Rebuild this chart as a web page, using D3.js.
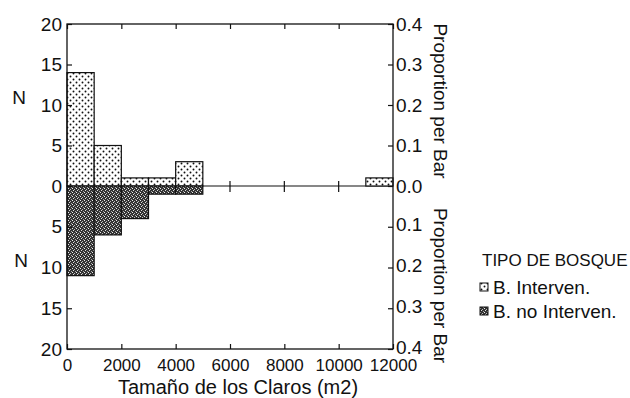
<!DOCTYPE html>
<html>
<head>
<meta charset="utf-8">
<script src="https://cdn.jsdelivr.net/npm/d3@7"></script>
<style>
  body { margin: 0; background: #fff; }
  svg text { font-family: "Liberation Sans", Arial, sans-serif; fill: #111; }
</style>
</head>
<body>
<div id="chart"></div>
<script>
// bins of 1000 m2
const binStarts = [0, 1000, 2000, 3000, 4000, 5000, 6000, 7000, 8000, 9000, 10000, 11000];
const binWidth = 1000;
const interven = [14, 5, 1, 1, 3, 0, 0, 0, 0, 0, 0, 1];      // B. Interven. (upper)
const noInterven = [11, 6, 4, 1, 1, 0, 0, 0, 0, 0, 0, 0];    // B. no Interven. (lower)
const countTicks = [0, 5, 10, 15, 20];
const propTicks = [0, 0.1, 0.2, 0.3, 0.4];
const xTicks = [0, 2000, 4000, 6000, 8000, 10000, 12000];
const seriesNames = ['B. Interven.', 'B. no Interven.'];

const W = 630, H = 398;
const plot = { left: 67, right: 393, top: 24, bottom: 349, zero: 186 };

const svg = d3.select('#chart').append('svg')
  .attr('width', W).attr('height', H);

// fill patterns
const defs = svg.append('defs');
const dots = defs.append('pattern')
  .attr('id', 'dots').attr('patternUnits', 'userSpaceOnUse')
  .attr('width', 6).attr('height', 6);
dots.append('rect').attr('width', 6).attr('height', 6).attr('fill', '#fff');
dots.append('circle').attr('cx', 1.5).attr('cy', 1.5).attr('r', 0.95).attr('fill', '#111');
dots.append('circle').attr('cx', 4.5).attr('cy', 4.5).attr('r', 0.95).attr('fill', '#111');

// speckled dark grey
const dark = defs.append('pattern')
  .attr('id', 'dark').attr('patternUnits', 'userSpaceOnUse')
  .attr('width', 4).attr('height', 4);
dark.append('rect').attr('width', 4).attr('height', 4).attr('fill', '#333');
[[0, 0, '#eee'], [2, 1, '#bbb'], [1, 2, '#ddd'], [3, 3, '#aaa']].forEach(([px, py, c]) => {
  dark.append('rect').attr('x', px).attr('y', py).attr('width', 1).attr('height', 1).attr('fill', c);
});

//scales
const x = d3.scaleLinear().domain([0, 12000]).range([plot.left, plot.right]);
const yUp = d3.scaleLinear().domain([0, 20]).range([plot.zero, plot.top]);
const yDown = d3.scaleLinear().domain([0, 20]).range([plot.zero, plot.bottom]);
const pUp = d3.scaleLinear().domain([0, 0.4]).range([plot.zero, plot.top]);
const pDown = d3.scaleLinear().domain([0, 0.4]).range([plot.zero, plot.bottom]);

// zero line with crossing ticks
svg.append('line')
  .attr('x1', x(0)).attr('x2', x(12000))
  .attr('y1', plot.zero).attr('y2', plot.zero)
  .attr('stroke', '#111').attr('stroke-width', 1.2);
svg.selectAll('.zeroTick')
  .data(xTicks.slice(1, -1))
  .enter().append('line')
  .attr('x1', d => x(d)).attr('x2', d => x(d))
  .attr('y1', plot.zero - 5).attr('y2', plot.zero + 6)
  .attr('stroke', '#111').attr('stroke-width', 1.2);

// upper bars
svg.selectAll('.barUp')
  .data(binStarts.map((b, i) => ({ b, v: interven[i] })).filter(d => d.v > 0))
  .enter().append('rect')
  .attr('x', d => x(d.b))
  .attr('y', d => yUp(d.v))
  .attr('width', d => x(d.b + binWidth) - x(d.b))
  .attr('height', d => yUp(0) - yUp(d.v))
  .attr('fill', 'url(#dots)')
  .attr('stroke', '#111').attr('stroke-width', 1.2);

// lower bars
svg.selectAll('.barDown')
  .data(binStarts.map((b, i) => ({ b, v: noInterven[i] })).filter(d => d.v > 0))
  .enter().append('rect')
  .attr('x', d => x(d.b))
  .attr('y', plot.zero)
  .attr('width', d => x(d.b + binWidth) - x(d.b))
  .attr('height', d => yDown(d.v) - yDown(0))
  .attr('fill', 'url(#dark)')
  .attr('stroke', '#111').attr('stroke-width', 1.2);

// frame
svg.append('rect')
  .attr('x', plot.left).attr('y', plot.top)
  .attr('width', plot.right - plot.left).attr('height', plot.bottom - plot.top)
  .attr('fill', 'none').attr('stroke', '#111').attr('stroke-width', 1.3);

function styleAxis(size) {
  return g => {
    g.select('.domain').remove();
    g.selectAll('.tick line').attr('stroke', '#111').attr('stroke-width', 1.2);
    g.selectAll('.tick text').style('font-size', size + 'px').attr('fill', '#111');
  };
}

//add left axes (ticks inward)
svg.append('g').attr('transform', `translate(${plot.left},0)`)
  .call(d3.axisLeft(yUp).tickValues(countTicks).tickSize(-5).tickPadding(5))
  .call(styleAxis(19));
svg.append('g').attr('transform', `translate(${plot.left},0)`)
  .call(d3.axisLeft(yDown).tickValues(countTicks.slice(1)).tickSize(-5).tickPadding(5))
  .call(styleAxis(19));

//add right axes
svg.append('g').attr('transform', `translate(${plot.right},0)`)
  .call(d3.axisRight(pUp).tickValues(propTicks).tickSize(-5).tickPadding(3).tickFormat(d3.format('.1f')))
  .call(styleAxis(19));
svg.append('g').attr('transform', `translate(${plot.right},-2)`)
  .call(d3.axisRight(pDown).tickValues(propTicks.slice(1)).tickSize(-5).tickPadding(3).tickFormat(d3.format('.1f')))
  .call(styleAxis(19))
  .selectAll('.tick line').attr('transform', 'translate(0,2)');

//add bottom / top axes
svg.append('g').attr('transform', `translate(0,${plot.bottom})`)
  .call(d3.axisBottom(x).tickValues(xTicks).tickSize(-5).tickPadding(10).tickFormat(d3.format('d')))
  .call(styleAxis(17));
svg.append('g').attr('transform', `translate(0,${plot.top})`)
  .call(d3.axisTop(x).tickValues(xTicks).tickSize(-5).tickFormat(''))
  .call(styleAxis(17));

// axis titles
svg.append('text')
  .attr('x', 238).attr('y', 394)
  .attr('text-anchor', 'middle')
  .style('font-size', '20px')
  .text('Tamaño de los Claros (m2)');

svg.append('text').attr('x', 19).attr('y', 104)
  .attr('text-anchor', 'middle').style('font-size', '19px').text('N');
svg.append('text').attr('x', 21).attr('y', 267)
  .attr('text-anchor', 'middle').style('font-size', '19px').text('N');

svg.append('text')
  .attr('transform', `translate(434, ${(plot.top + plot.zero) / 2 - 4}) rotate(90)`)
  .attr('text-anchor', 'middle')
  .style('font-size', '19px')
  .text('Proportion per Bar');
svg.append('text')
  .attr('transform', `translate(434, ${(plot.zero + plot.bottom) / 2 + 18}) rotate(90)`)
  .attr('text-anchor', 'middle')
  .style('font-size', '19px')
  .text('Proportion per Bar');

// legend
svg.append('text').attr('x', 482).attr('y', 266)
  .style('font-size', '17px').text('TIPO DE BOSQUE');
const legend = svg.selectAll('.legend')
  .data(seriesNames)
  .enter().append('g')
  .attr('transform', (d, i) => `translate(480, ${288 + i * 24})`);
legend.append('rect')
  .attr('x', 0).attr('y', -5).attr('width', 8).attr('height', 8)
  .attr('fill', (d, i) => i === 0 ? 'url(#dots)' : 'url(#dark)')
  .attr('stroke', '#111').attr('stroke-width', 1);
legend.append('text')
  .attr('x', 13).attr('y', 6)
  .style('font-size', '19px')
  .text(d => d);
</script>
</body>
</html>
